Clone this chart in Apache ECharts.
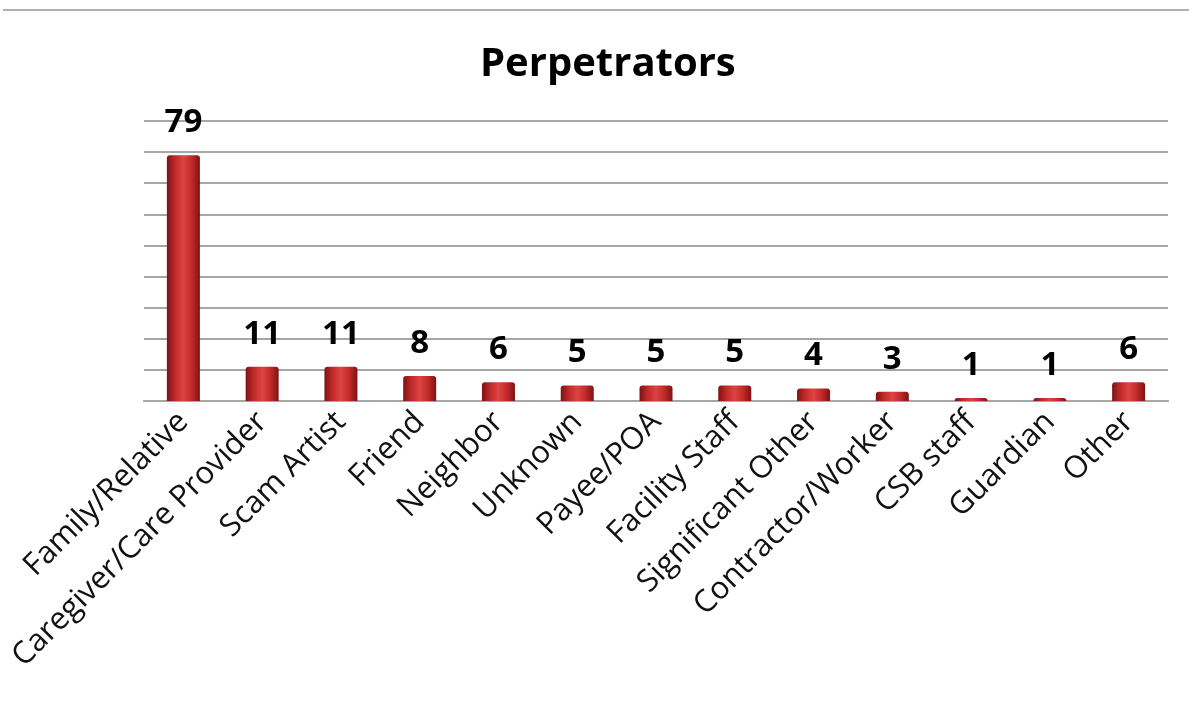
<!DOCTYPE html>
<html>
<head>
<meta charset="UTF-8">
<title>Perpetrators</title>
<script src="https://cdn.jsdelivr.net/npm/echarts@6/dist/echarts.min.js"></script>
<style>
  html, body { margin: 0; padding: 0; background: #fff; }
</style>
</head>
<body>
<div id="main" style="width:1189px;height:704px;"></div>
<script type="text/javascript">
  var categories = ['Family/Relative', 'Caregiver/Care Provider', 'Scam Artist', 'Friend', 'Neighbor',
    'Unknown', 'Payee/POA', 'Facility Staff', 'Significant Other', 'Contractor/Worker',
    'CSB staff', 'Guardian', 'Other'];
  var counts = [79, 11, 11, 8, 6, 5, 5, 5, 4, 3, 1, 1, 6];
  var yTicks = [0, 10, 20, 30, 40, 50, 60, 70, 80, 90];

  // cylinder-ish red fill
  var barFill = new echarts.graphic.LinearGradient(0, 0, 1, 0, [
    { offset: 0, color: '#7c1313' },
    { offset: 0.25, color: '#c22a2a' },
    { offset: 0.5, color: '#dc4343' },
    { offset: 0.75, color: '#c22a2a' },
    { offset: 1, color: '#7c1313' }
  ]);

  var myChart = echarts.init(document.getElementById('main'));
  myChart.setOption({
    backgroundColor: '#ffffff',
    animation: false,
    title: {
      text: 'Perpetrators',
      left: 475,
      top: 40,
      textStyle: {
        fontFamily: 'Open Sans',
        fontWeight: 'bold',
        fontSize: 40,
        color: '#000'
      }
    },
    graphic: [{
      type: 'line',
      shape: { x1: 3, y1: 10, x2: 1189, y2: 10 },
      style: { stroke: '#b0b0b0', lineWidth: 2 }
    }],
    grid: {
      left: 144,
      right: 21,
      top: 121,
      bottom: 303
    },
    xAxis: {
      type: 'category',
      data: categories,
      axisLine: { lineStyle: { color: '#a6a6a6', width: 2 } },
      axisTick: { show: false },
      axisLabel: {
        interval: 0,
        rotate: 45,
        margin: 16,
        fontFamily: 'Open Sans',
        fontSize: 31,
        color: '#111'
      }
    },
    yAxis: {
      type: 'value',
      min: yTicks[0],
      max: yTicks[yTicks.length - 1],
      interval: 10,
      axisLine: { show: false },
      axisTick: { show: false },
      axisLabel: { show: false },
      splitLine: { lineStyle: { color: '#a6a6a6', width: 2 } }
    },
    series: [{
      type: 'bar',
      data: counts,
      barWidth: 33,
      itemStyle: {
        color: barFill,
        borderRadius: [3, 3, 0, 0]
      },
      label: {
        show: true,
        position: 'top',
        distance: 16,
        fontFamily: 'Open Sans',
        fontWeight: 'bold',
        fontSize: 33,
        color: '#000'
      }
    }]
  });
</script>
</body>
</html>
